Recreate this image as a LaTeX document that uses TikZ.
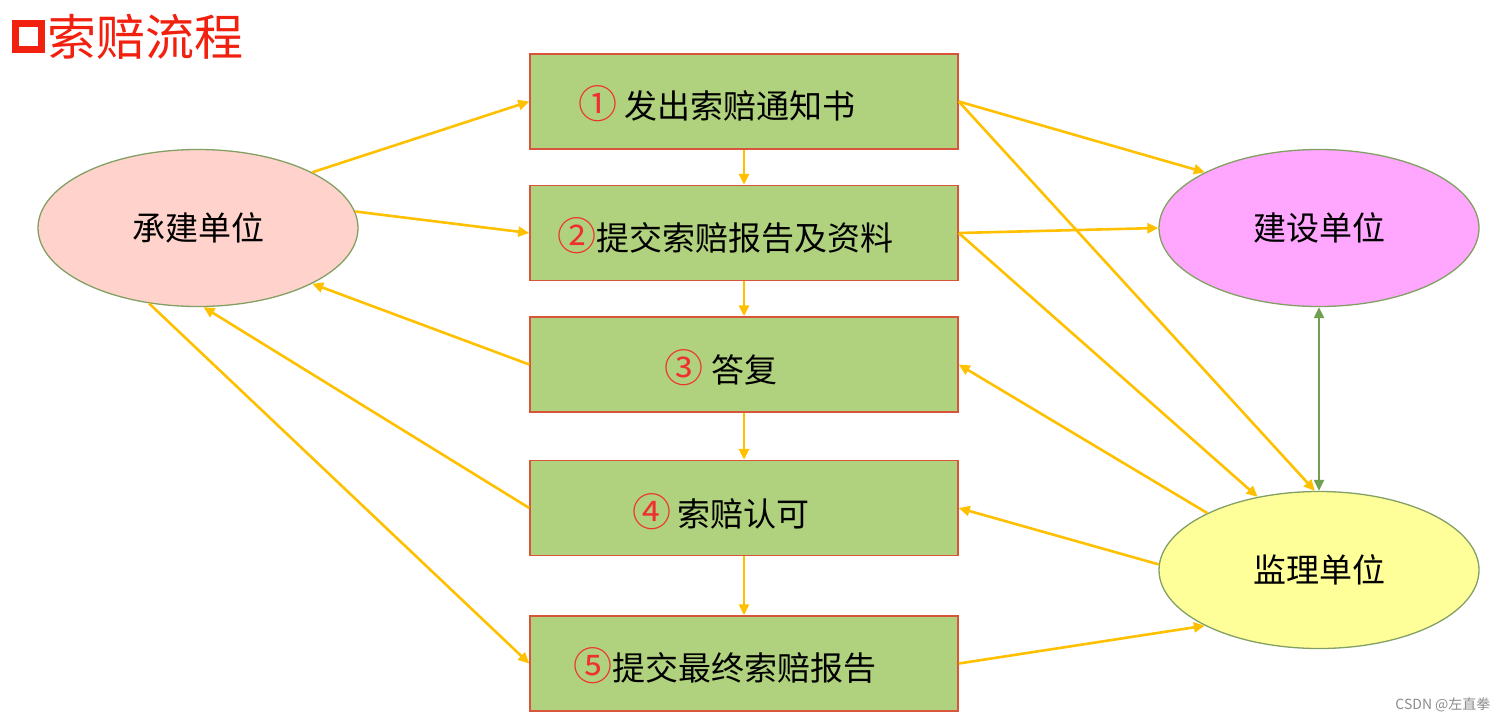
\documentclass[tikz,border=0pt]{standalone}
\usepackage{fontspec}
\setmainfont{Noto Sans CJK SC}
\usetikzlibrary{shapes.geometric,arrows.meta}
\definecolor{ClaimGreen}{HTML}{B0D27E}
\definecolor{ClaimEdge}{HTML}{D8553C}
\definecolor{FlowOrange}{HTML}{FFC000}
\definecolor{LinkGreen}{HTML}{70A050}
\definecolor{PartyEdge}{HTML}{82A064}
\definecolor{BuilderPink}{HTML}{FFD3CB}
\definecolor{OwnerPink}{HTML}{FFA6FF}
\definecolor{SuperYellow}{HTML}{FFFF99}
\definecolor{TitleRed}{HTML}{F2200F}
\definecolor{NumRed}{HTML}{F03030}
\newcommand\claimnum[1]{{\fontsize{39}{40}\selectfont\textcolor{NumRed}{#1}}}

\begin{document}
\begin{tikzpicture}[x=1pt,y=-1pt,
    stepbox/.style={draw=ClaimEdge,fill=ClaimGreen,line width=1.5pt,
      minimum width=428pt,minimum height=95pt,inner sep=0pt},
    party/.style={ellipse,draw=PartyEdge,line width=1.3pt,
      minimum width=320pt,minimum height=157pt,inner sep=0pt,
      font=\fontsize{33}{40}\selectfont},
    steptext/.style={font=\fontsize{33}{40}\selectfont},
    flow/.style={draw=FlowOrange,line width=2.6pt,
      -{Triangle[length=11pt,width=10pt]}}]
    \useasboundingbox (0,0) rectangle (1506,723);

    % title
    \node[draw=TitleRed,line width=7pt,minimum size=26pt,inner sep=0pt]
      (bullet) at (28.5,36) {};
    \node[anchor=west,text=TitleRed,font=\fontsize{49}{56}\selectfont,inner sep=0pt]
      (title) at (47,37) {索赔流程};

    % steps
    \node[stepbox] (notice) at (744,101.5) {};
    \node[stepbox] (submit) at (744,233) {};
    \node[stepbox] (reply)  at (744,364.5) {};
    \node[stepbox] (accept) at (744,508) {};
    \node[stepbox] (final)  at (744,663.5) {};

    \node[steptext] (noticetext) at (717,104) {\claimnum{①} 发出索赔通知书};
    \node[steptext] (submittext) at (725,236) {\claimnum{②}提交索赔报告及资料};
    \node[steptext] (replytext)  at (721,368) {\claimnum{③} 答复};
    \node[steptext] (accepttext) at (721,512) {\claimnum{④}\hspace{6pt}索赔认可};
    \node[steptext] (finaltext)  at (725,666) {\claimnum{⑤}提交最终索赔报告};

    % parties
    \node[party,fill=BuilderPink] (builder) at (198,228) {承建单位};
    \node[party,fill=OwnerPink]   (owner)   at (1319,228) {建设单位};
    \node[party,fill=SuperYellow] (super)   at (1319,570) {监理单位};

    % flow down the steps
    \draw[flow] (notice) -- (submit);
    \draw[flow] (submit) -- (reply);
    \draw[flow] (reply) -- (accept);
    \draw[flow] (accept) -- (final);

    % builder side
    \draw[flow] (builder.26) -- (notice.west);
    \draw[flow] (builder.6) -- (submit.west);
    \draw[flow] (reply.west) -- (builder.-26);
    \draw[flow] (accept.west) -- (builder.-86);
    \draw[flow] (builder.-123) -- (final.west);

    % owner and supervisor side
    \draw[flow] (notice.east) -- (owner.154);
    \draw[flow] (notice.east) -- (super.93);
    \draw[flow] (submit.east) -- (owner.180);
    \draw[flow] (submit.east) -- (super.130);
    \draw[flow] (super.153) -- (reply.east);
    \draw[flow] (super.178) -- (accept.east);
    \draw[flow] (final.east) -- (super.-154);

    \draw[draw=LinkGreen,line width=2.2pt,
      {Triangle[length=11pt,width=10pt]}-{Triangle[length=11pt,width=10pt]}]
      (owner.south) -- (super.north);

    \node[anchor=east,text=black!45,font=\fontsize{14}{16}\selectfont]
      (mark) at (1494,705) {CSDN @左直拳};
\end{tikzpicture}
\end{document}
